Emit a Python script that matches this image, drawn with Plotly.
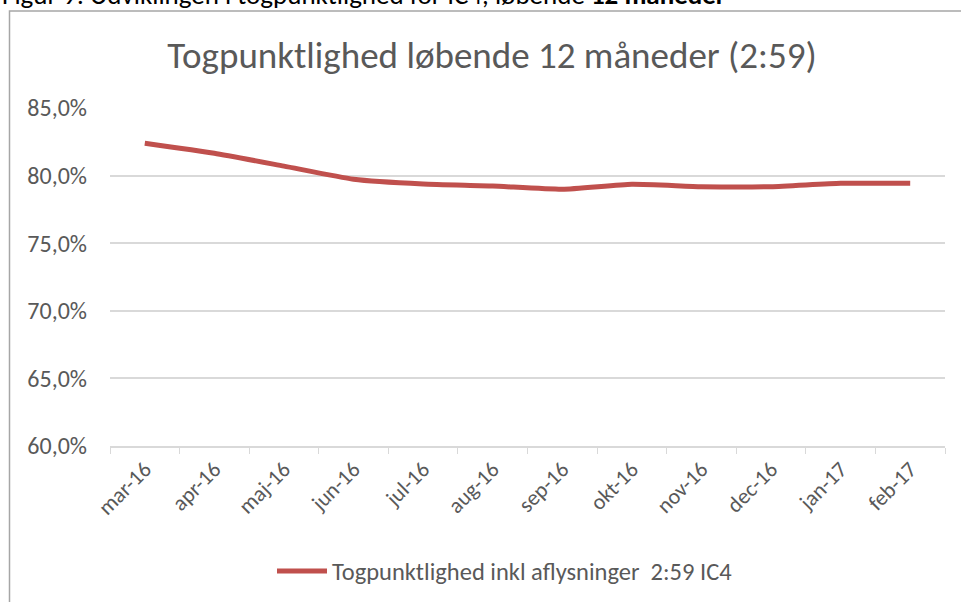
import plotly.graph_objects as go

months = ["mar-16", "apr-16", "maj-16", "jun-16", "jul-16", "aug-16",
          "sep-16", "okt-16", "nov-16", "dec-16", "jan-17", "feb-17"]
punktlighed = [0.8239, 0.8165, 0.8070, 0.7973, 0.7938, 0.7923,
               0.7899, 0.7936, 0.7918, 0.7918, 0.7943, 0.7943]
series_name = "Togpunktlighed inkl aflysninger  2:59 IC4"
chart_title = "Togpunktlighed løbende 12 måneder (2:59)"
caption_main = "Figur 9: Udviklingen i togpunktlighed for IC4, løbende "
caption_bold = "12 måneder"

fig = go.Figure()
fig.add_trace(go.Scatter(
    x=months, y=punktlighed, mode="lines", name=series_name,
    line=dict(color="#C0504D", width=5, shape="spline", smoothing=0.5),
    showlegend=True,
))

font_fam = "Carlito, Calibri, 'Open Sans', sans-serif"
fig.update_layout(
    width=961, height=602,
    margin=dict(l=110, r=16, t=108, b=156),
    paper_bgcolor="white", plot_bgcolor="white",
    separators=",.",
    font=dict(family=font_fam, color="#595959"),
    title=dict(text=chart_title, x=492 / 961, xanchor="center", xref="container",
               y=1 - 55 / 602, yanchor="middle", yref="container",
               font=dict(size=37, color="#595959", family=font_fam)),
    showlegend=True,
    legend=dict(orientation="h", x=505 / 961, xref="container", xanchor="center",
                y=(602 - 571) / 602, yref="container", yanchor="middle",
                font=dict(size=24.5, color="#595959"), itemwidth=50),
    xaxis=dict(type="category", tickangle=-45, tickson="boundaries",
               ticks="outside", ticklen=6, tickcolor="#d9d9d9",
               showline=True, linecolor="#d9d9d9", linewidth=1.5,
               showgrid=False, tickfont=dict(size=22, color="#595959"),
               range=[-0.5, 11.5]),
    yaxis=dict(range=[0.6, 0.85], dtick=0.05, tickformat=".1%",
               showgrid=True, gridcolor="#d9d9d9", gridwidth=1.5,
               zeroline=False, showline=False, ticks="",
               tickfont=dict(size=24, color="#595959"), ticklabelstandoff=22),
)

# border box of the embedded chart
fig.add_shape(type="rect", xref="paper", yref="paper",
              x0=(9.5 - 110) / 835, x1=(980 - 110) / 835,
              y0=(446 - 620) / 338, y1=(446 - 11) / 338,
              line=dict(color="#a6a6a6", width=1.5), fillcolor="rgba(0,0,0,0)",
              layer="below")

# caption partly cut off at top
fig.add_annotation(text=caption_main + "<b>" + caption_bold + "</b>",
                   xref="paper", yref="paper",
                   x=(0 - 110) / 835, xanchor="left",
                   y=(446 - 9) / 338, yanchor="bottom", yshift=-4.5,
                   showarrow=False,
                   font=dict(size=27, color="black", family=font_fam))

fig.write_html("out.html", config={"displayModeBar": False},
               post_script="document.body.style.margin='0';document.body.style.overflow='hidden';")
